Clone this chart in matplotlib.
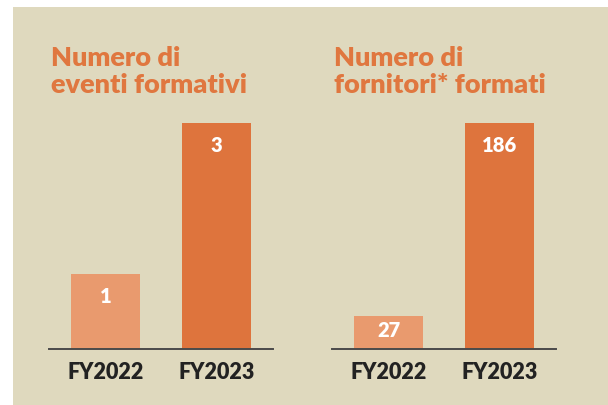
import matplotlib.pyplot as plt
from matplotlib.patches import Rectangle

# === Data ===
years = ["FY2022", "FY2023"]
eventi = [1, 3]
fornitori = [27, 186]
titles = ["Numero di\neventi formativi", "Numero di\nfornitori* formati"]

bg = "#DFD9BE"
bar_colors = ["#E99A6E", "#DE743D"]
title_color = "#E0773F"
W, H = 608, 406

fig = plt.figure(figsize=(W / 100, H / 100), dpi=100)
fig.patch.set_facecolor("white")
fig.patches.append(Rectangle((13 / W, 0), 1 - 13 / W, 1 - 8 / H,
                             transform=fig.transFigure, facecolor=bg,
                             edgecolor="none", zorder=-1))


def panel(left_px, values, title):
    # axes spanning baseline (y=350) up to the tallest bar top (y=124)
    ax = fig.add_axes([left_px / W, 1 - 350 / H, 224 / W, 226 / H])
    ax.set_zorder(2)
    ax.patch.set_alpha(0)
    x = range(len(values))
    ax.bar(x, values, width=0.62, color=bar_colors, zorder=2)
    ax.set_xlim(-0.51, 1.51)
    ax.set_ylim(0, max(values))
    for s in ["top", "right", "left"]:
        ax.spines[s].set_visible(False)
    ax.spines["bottom"].set_color("#4a4a4a")
    ax.spines["bottom"].set_linewidth(1.4)
    ax.spines["bottom"].set_zorder(3)
    ax.set_yticks([])
    ax.set_xticks(list(x))
    ax.set_xticklabels(years, fontsize=15.5, fontweight="heavy",
                       color="#222222", family="Lato")
    ax.tick_params(axis="x", length=0, pad=9)
    offset = max(values) * 22 / 226
    for xi, v in zip(x, values):
        y = v - min(offset, v * 0.42)
        ax.text(xi, y, str(v), ha="center", va="center", color="white",
                fontsize=14.5, fontweight="heavy", family="Lato", zorder=4)
    fig.text((left_px + 2) / W, 1 - 93 / H, title, ha="left", va="baseline",
             color=title_color, fontsize=19.5, fontweight="heavy",
             family="Lato", linespacing=1.15, zorder=5)
    return ax


panel(49, eventi, titles[0])
panel(332, fornitori, titles[1])

fig.savefig("out.png", dpi=100, facecolor=fig.get_facecolor())
